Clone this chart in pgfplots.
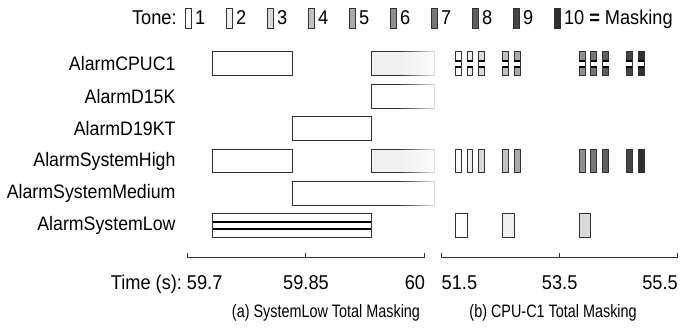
\documentclass[border=0pt]{standalone}
\usepackage{fontspec}
\setmainfont{Liberation Sans}[FakeStretch=0.91]
\newfontfamily\capfam{Liberation Sans}[FakeStretch=0.8]
\usepackage{pgfplots}
\pgfplotsset{compat=1.18}
\usetikzlibrary{fadings}
\definecolor{edge}{HTML}{333333}
\definecolor{tone1}{HTML}{FFFFFF}
\definecolor{tone2}{HTML}{F0F0F0}
\definecolor{tone3}{HTML}{D9D9D9}
\definecolor{tone4}{HTML}{C2C2C2}
\definecolor{tone5}{HTML}{AAAAAA}
\definecolor{tone6}{HTML}{8F8F8F}
\definecolor{tone7}{HTML}{777777}
\definecolor{tone8}{HTML}{5E5E5E}
\definecolor{tone9}{HTML}{454545}
\definecolor{tone10}{HTML}{2E2E2E}
\tikzfading[name=fadein, left color=transparent!100, right color=transparent!0]
\newcommand{\lblfont}{\fontsize{19.5}{22}\selectfont}
\newcommand{\tckfont}{\fontsize{20}{22}\selectfont}
\newcommand{\capfont}{\capfam\fontsize{18}{20}\selectfont}
\newcommand{\rbox}[5]{\addplot[draw=edge, line width=1pt, fill=#5] coordinates {(#1,#3) (#2,#3) (#2,#4) (#1,#4)} -- cycle;}
\newcommand{\rmask}[4]{\addplot[fill=white, draw=none] coordinates {(#1,#3) (#2,#3) (#2,#4) (#1,#4)} -- cycle;
  \addplot[black, line width=2.4pt] coordinates {(#1,#3) (#2,#3)};
  \addplot[black, line width=2.4pt] coordinates {(#1,#4) (#2,#4)};}
\newcommand{\lt}[1]{\hspace*{1pt}\makebox[29pt][l]{#1}}
\begin{document}
\begin{tikzpicture}
\useasboundingbox (0,0) rectangle (683pt,334pt);
\begin{axis}[
  scale only axis, width=238pt, height=207pt,
  at={(187pt,76pt)}, anchor=south west,
  xmin=59.7, xmax=60, ymin=0, ymax=6.4, clip=false,
  axis x line=bottom, axis y line=left,
  y axis line style={draw=none}, ytick style={draw=none},
  x axis line style={-, draw=edge, line width=1pt},
  xtick style={draw=edge, line width=1pt},
  tick align=inside, major tick length=5pt,
  ytick={1,2,3,4,5,6},
  yticklabels={AlarmSystemLow, AlarmSystemMedium, AlarmSystemHigh, AlarmD19KT, AlarmD15K, AlarmCPUC1},
  yticklabel style={font=\lblfont, anchor=east, xshift=-8pt},
  xtick={59.7,59.85,60},
  xticklabels={{\makebox[0pt][r]{Time (s):\hspace{5pt}}\makebox[0pt][l]{59.7}}, {59.85}, {\makebox[0pt][r]{60}}},
  xticklabel style={font=\tckfont, anchor=base, yshift=-32pt},
  xlabel={(a) SystemLow Total Masking},
  xlabel style={font=\capfont, at={(axis description cs:0.584,0)}, anchor=base, yshift=-60pt},
  legend columns=-1,
  legend style={draw=none, fill=none, inner sep=0pt, at={(axis description cs:-0.24,1.159)}, anchor=west, font=\tckfont,
    /tikz/every even column/.style={column sep=0pt}, /tikz/every odd column/.style={column sep=0pt}},
  legend image code/.code={\draw[#1, line width=1pt] (0pt,-10pt) rectangle (6pt,10pt);},
]
\addlegendimage{empty legend}\addlegendentry{\makebox[51pt][l]{Tone:}}
\addlegendimage{draw=edge, fill=tone1}\addlegendentry{\lt{1}}
\addlegendimage{draw=edge, fill=tone2}\addlegendentry{\lt{2}}
\addlegendimage{draw=edge, fill=tone3}\addlegendentry{\lt{3}}
\addlegendimage{draw=edge, fill=tone4}\addlegendentry{\lt{4}}
\addlegendimage{draw=edge, fill=tone5}\addlegendentry{\lt{5}}
\addlegendimage{draw=edge, fill=tone6}\addlegendentry{\lt{6}}
\addlegendimage{draw=edge, fill=tone7}\addlegendentry{\lt{7}}
\addlegendimage{draw=edge, fill=tone8}\addlegendentry{\lt{8}}
\addlegendimage{draw=edge, fill=tone9}\addlegendentry{\lt{9}}
\addlegendimage{draw=edge, fill=tone10}\addlegendentry{\hspace*{1pt}\makebox[25.2pt][l]{10}\textbf{=} Masking}
% row 6: AlarmCPUC1
\rbox{59.7325}{59.8325}{5.63}{6.37}{white}
\rbox{59.9325}{60.012}{5.63}{6.37}{tone2}
% row 5: AlarmD15K
\rbox{59.9325}{60.012}{4.63}{5.37}{white}
% row 4: AlarmD19KT
\rbox{59.8325}{59.9325}{3.63}{4.37}{white}
% row 3: AlarmSystemHigh
\rbox{59.7325}{59.8325}{2.63}{3.37}{white}
\rbox{59.9325}{60.012}{2.63}{3.37}{tone2}
% row 2: AlarmSystemMedium
\rbox{59.8325}{60.012}{1.63}{2.37}{white}
% row 1: AlarmSystemLow (masked)
\rbox{59.7325}{59.9325}{0.63}{1.37}{white}
\rmask{59.7325}{59.9325}{0.89}{1.11}
% fade-out at the right edge
\addplot[fill=white, draw=none, path fading=fadein] coordinates {(59.968,1.5) (60.02,1.5) (60.02,6.5) (59.968,6.5)} -- cycle;
\end{axis}
\begin{axis}[
  scale only axis, width=236pt, height=207pt,
  at={(441.7pt,76pt)}, anchor=south west,
  xmin=51.5, xmax=55.5, ymin=0, ymax=6.4, clip=false,
  axis x line=bottom, axis y line=none,
  x axis line style={-, draw=edge, line width=1pt},
  xtick style={draw=edge, line width=1pt},
  tick align=inside, major tick length=5pt,
  xtick={51.5,53.5,55.5},
  xticklabels={{\makebox[0pt][l]{51.5}}, {53.5}, {\makebox[0pt][r]{55.5}}},
  xticklabel style={font=\tckfont, anchor=base, yshift=-32pt},
  xlabel={(b) CPU-C1 Total Masking},
  xlabel style={font=\capfont, at={(axis description cs:0.472,0)}, anchor=base, yshift=-60pt},
]
% row 6: AlarmCPUC1 (masked)
\rbox{51.73}{51.83}{5.63}{6.37}{tone1}\rmask{51.73}{51.83}{5.9}{6.1}
\rbox{51.93}{52.03}{5.63}{6.37}{tone2}\rmask{51.93}{52.03}{5.9}{6.1}
\rbox{52.13}{52.23}{5.63}{6.37}{tone3}\rmask{52.13}{52.23}{5.9}{6.1}
\rbox{52.53}{52.63}{5.63}{6.37}{tone4}\rmask{52.53}{52.63}{5.9}{6.1}
\rbox{52.73}{52.83}{5.63}{6.37}{tone5}\rmask{52.73}{52.83}{5.9}{6.1}
\rbox{53.83}{53.93}{5.63}{6.37}{tone6}\rmask{53.83}{53.93}{5.9}{6.1}
\rbox{54.03}{54.13}{5.63}{6.37}{tone7}\rmask{54.03}{54.13}{5.9}{6.1}
\rbox{54.23}{54.33}{5.63}{6.37}{tone8}\rmask{54.23}{54.33}{5.9}{6.1}
\rbox{54.63}{54.73}{5.63}{6.37}{tone9}\rmask{54.63}{54.73}{5.9}{6.1}
\rbox{54.83}{54.93}{5.63}{6.37}{tone10}\rmask{54.83}{54.93}{5.9}{6.1}
% row 3: AlarmSystemHigh
\rbox{51.73}{51.83}{2.63}{3.37}{tone1}
\rbox{51.93}{52.03}{2.63}{3.37}{tone2}
\rbox{52.13}{52.23}{2.63}{3.37}{tone3}
\rbox{52.53}{52.63}{2.63}{3.37}{tone4}
\rbox{52.73}{52.83}{2.63}{3.37}{tone5}
\rbox{53.83}{53.93}{2.63}{3.37}{tone6}
\rbox{54.03}{54.13}{2.63}{3.37}{tone7}
\rbox{54.23}{54.33}{2.63}{3.37}{tone8}
\rbox{54.63}{54.73}{2.63}{3.37}{tone9}
\rbox{54.83}{54.93}{2.63}{3.37}{tone10}
% row 1: AlarmSystemLow
\rbox{51.73}{51.93}{0.63}{1.37}{tone1}
\rbox{52.53}{52.73}{0.63}{1.37}{tone2}
\rbox{53.83}{54.03}{0.63}{1.37}{tone3}
\end{axis}
\end{tikzpicture}
\end{document}
